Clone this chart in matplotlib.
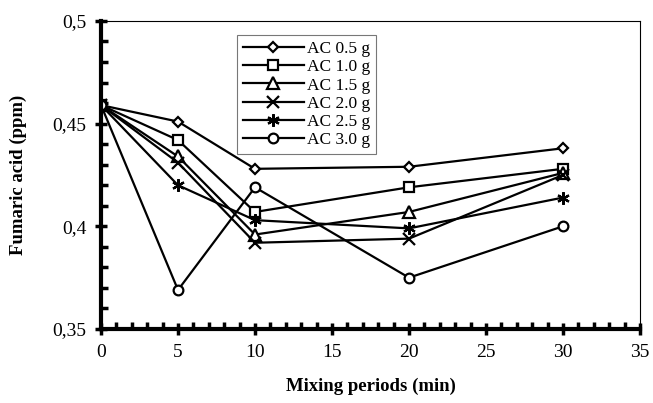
import matplotlib.pyplot as plt
from matplotlib.ticker import MultipleLocator, FuncFormatter

# mixing time (min) and fumaric acid (ppm) per activated carbon dose
times = [0, 5, 10, 20, 30]
ac_05 = [0.459, 0.451, 0.428, 0.429, 0.438]
ac_10 = [0.459, 0.442, 0.407, 0.419, 0.428]
ac_15 = [0.459, 0.434, 0.396, 0.407, 0.426]
ac_20 = [0.459, 0.431, 0.392, 0.394, 0.425]
ac_25 = [0.459, 0.420, 0.403, 0.399, 0.414]
ac_30 = [0.459, 0.369, 0.419, 0.375, 0.400]
labels = ['AC 0.5 g', 'AC 1.0 g', 'AC 1.5 g', 'AC 2.0 g', 'AC 2.5 g', 'AC 3.0 g']
markers = ['D', 's', '^', 'x', (6, 2, 0), 'o']
msizes = [5, 7, 8, 8, 9, 7]

plt.rcParams['font.family'] = ['Liberation Serif', 'DejaVu Serif']

fig = plt.figure(figsize=(6.53, 4.03), dpi=100)
ax = fig.add_axes([0.1547, 0.1836, 0.8253, 0.7644])

for ys, lab, m, ms in zip([ac_05, ac_10, ac_15, ac_20, ac_25, ac_30], labels, markers, msizes):
    ax.plot(times, ys, color='black', lw=1.6, marker=m, ms=ms,
            mfc='white', mec='black', mew=1.6, label=lab)

ax.set_xlim(0, 35)
ax.set_ylim(0.35, 0.5)
ax.xaxis.set_major_locator(MultipleLocator(5))
ax.xaxis.set_minor_locator(MultipleLocator(1))
ax.yaxis.set_major_locator(MultipleLocator(0.05))
ax.yaxis.set_minor_locator(MultipleLocator(0.01))
ax.yaxis.set_major_formatter(FuncFormatter(lambda v, p: ('%g' % round(v, 3)).replace('.', ',')))

ax.tick_params(which='major', direction='inout', length=9, width=2.5, labelsize=14, pad=6)
ax.tick_params(which='minor', direction='in', length=5, width=2.5)
for s in ['left', 'bottom']:
    ax.spines[s].set_linewidth(3)
for s in ['top', 'right']:
    ax.spines[s].set_linewidth(0.8)

ax.set_xlabel('Mixing periods (min)', fontsize=13.5, fontweight='bold', labelpad=12)
ax.set_ylabel('Fumaric acid (ppm)', fontsize=13.5, fontweight='bold', labelpad=18)

leg = ax.legend(loc='upper left', bbox_to_anchor=(0.252, 0.955), fontsize=12.5,
                handlelength=3.5, frameon=True, fancybox=False, edgecolor='#555555',
                borderpad=0.35, borderaxespad=0, labelspacing=0.12, handletextpad=0.2)
leg.get_frame().set_linewidth(0.8)

plt.savefig('out.png', dpi=100)
